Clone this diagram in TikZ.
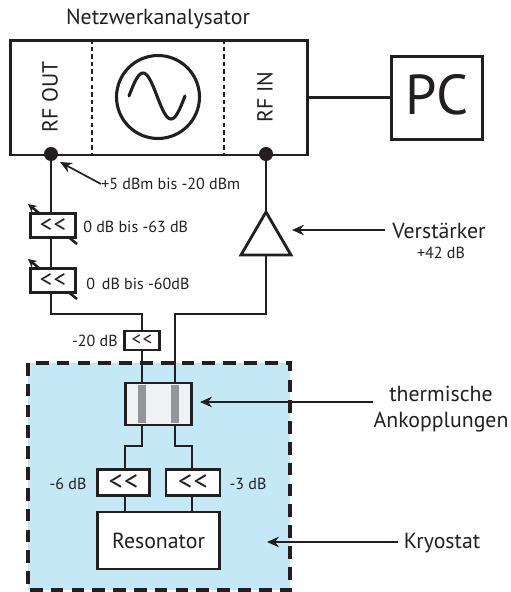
\documentclass[tikz,border=0pt]{standalone}
\usepackage{fontspec}
\setmainfont{PT Sans}
\usepackage{xcolor}
\usetikzlibrary{calc}
\usetikzlibrary{backgrounds}
\usetikzlibrary{arrows.meta}
\definecolor{linecolor}{HTML}{231F20}
\definecolor{kryocolor}{HTML}{C5E8F7}
\definecolor{blockcolor}{HTML}{F0F1F3}
\definecolor{stripcolor}{HTML}{939598}
\newcommand{\attsym}{<\kern1pt<}
\tikzset{
  wire/.style={draw=linecolor,line width=2pt},
  pointer/.style={draw=linecolor,line width=1.2pt,-{Stealth[length=8.5pt,width=7.5pt]}},
  tuner/.style={draw=linecolor,line width=1.8pt,-{Stealth[length=6pt,width=6pt]}},
  box/.style={draw=linecolor,line width=2pt,fill=white,inner sep=0pt,text=linecolor},
  port/.style={circle,fill=linecolor,inner sep=0pt,minimum size=10pt},
  biglabel/.style={text=linecolor,inner sep=0pt,font=\fontsize{15.5}{17}\selectfont},
  smalllabel/.style={text=linecolor,inner sep=0pt,font=\fontsize{11.4}{13}\selectfont},
}
\begin{document}
\begin{tikzpicture}[x=0.025cm,y=-0.025cm]
  \useasboundingbox (0,0) rectangle (511,592);
  % Kryostat
  \fill [kryocolor] (28,363) rectangle (290,590);
  \draw [linecolor,line width=2.3pt,dash pattern=on 9pt off 5.8pt] (28,363) rectangle (290,590);
  % Netzwerkanalysator
  \node [box,anchor=north west,minimum width=211.3,minimum height=81.5] (analyzer) at (9,39) {};
  \node [box,anchor=north west,minimum width=64.5,minimum height=59] (pc) at (390,55) {};
  \node [text=linecolor,inner sep=0pt,font=\fontsize{40}{44}\selectfont] (pctext) at (437,95) {PC};
  \node [biglabel] (title) at (158,19) {Netzwerkanalysator};
  \draw [linecolor,line width=1pt,dash pattern=on 3.2pt off 2.2pt] (analyzer.north -| 92,0) -- (analyzer.south -| 92,0);
  \draw [linecolor,line width=1pt,dash pattern=on 3.2pt off 2.2pt] (analyzer.north -| 224,0) -- (analyzer.south -| 224,0);
  \node [biglabel,rotate=90] (rfout) at (50,97) {RF OUT};
  \node [biglabel,rotate=90] (rfin) at (265,97) {RF IN};
  \node [circle,draw=linecolor,line width=2.2pt,minimum size=59pt,inner sep=0pt] (source) at (158,97) {};
  \draw [linecolor,line width=2.2pt,line cap=round,domain=129:185,samples=50,smooth] plot (\x,{96-23*sin(6.43*(\x-129))});
  \draw [wire] (analyzer.east) -- (analyzer.east -| pc.west);
  \node [port] (dotout) at (51,154) {};
  \node [port] (dotin) at (266,154) {};
  % Abschwaecher
  \node [box,minimum width=32.5,minimum height=16.5,font=\fontsize{17.5}{18}\selectfont] (att1) at (53,225.5) {\attsym};
  \node [box,minimum width=32.5,minimum height=16.5,font=\fontsize{17.5}{18}\selectfont] (att2) at (53,280.5) {\attsym};
  \node [box,minimum width=25,minimum height=13.5,font=\fontsize{13.5}{14}\selectfont] (att3) at (142,340.5) {\attsym};
  \node [box,fill=blockcolor,minimum width=47.5,minimum height=29.8] (coupling) at (158.5,404) {};
  \node [fill=stripcolor,inner sep=0pt,minimum width=5.7,minimum height=27.5] (stripa) at (142,404) {};
  \node [fill=stripcolor,inner sep=0pt,minimum width=5.7,minimum height=27.5] (stripb) at (175,404) {};
  \node [box,minimum width=37.5,minimum height=19,font=\fontsize{20}{21}\selectfont] (att4) at (123.5,482.5) {\attsym};
  \node [box,minimum width=38.5,minimum height=19,font=\fontsize{20}{21}\selectfont] (att5) at (193,482.5) {\attsym};
  \node [box,minimum width=87,minimum height=40.5,font=\fontsize{15.5}{17}\selectfont] (resonator) at (158.5,540.5) {Resonator};
  % Verstaerker
  \coordinate (ampout) at (266,212);
  \coordinate (ampin) at (266,255);
  \draw [wire] (ampout) -- (241,255) -- (291,255) -- cycle;
  % Leitungen
  \draw [wire] (dotout) -- (dotout |- att1.north);
  \draw [wire] (dotout |- att1.south) -- (dotout |- att2.north);
  \draw [wire] (dotout |- att2.south) -- (51,314) -- (142,314) -- (att3.north);
  \draw [wire] (att3.south) -- (att3.south |- coupling.north);
  \draw [wire] (dotin) -- (ampout);
  \draw [wire] (ampin) -- (266,314) -- (175,314) -- (175,383);
  \draw [wire] (142,425) -- (142,446) -- (125,446) -- (125,469);
  \draw [wire] (175,425) -- (175,446) -- (192,446) -- (192,469);
  \draw [wire] (125,496) -- (125,512);
  \draw [wire] (192,496) -- (192,512);
  % Einstellpfeile
  \begin{scope}[on background layer]
    \draw [tuner] (77,244) -- (28,204);
    \draw [tuner] (77,299) -- (28,259);
  \end{scope}
  % Beschriftung
  \node [smalllabel,anchor=west] (powerlabel) at (101,184) {+5 dBm bis -20 dBm};
  \draw [pointer] (powerlabel.west) -- (60,162);
  \node [smalllabel,anchor=west] (label63) at (83,227) {0 dB bis -63 dB};
  \node [smalllabel,anchor=west] (label60) at (86,284) {0 \,dB bis -60dB};
  \node [smalllabel,anchor=east] (label20) at (118,341) {-20 dB};
  \node [smalllabel] (label6) at (68,484) {-6 dB};
  \node [smalllabel] (label3) at (248,484) {-3 dB};
  \node [biglabel] (amplabel) at (439,231) {Verstärker};
  \node [smalllabel] (gainlabel) at (441,253) {+42 dB};
  \node [biglabel] (thermlabela) at (441,394) {thermische};
  \node [biglabel] (thermlabelb) at (441,422) {Ankopplungen};
  \node [biglabel] (kryolabel) at (442,543) {Kryostat};
  \coordinate (ampend) at (385,230);
  \coordinate (thermend) at (373,402);
  \coordinate (kryoend) at (398,542);
  \draw [pointer] (ampend) -- (292,230);
  \draw [pointer] (thermend) -- (200,402);
  \draw [pointer] (kryoend) -- (267,542);
\end{tikzpicture}
\end{document}
